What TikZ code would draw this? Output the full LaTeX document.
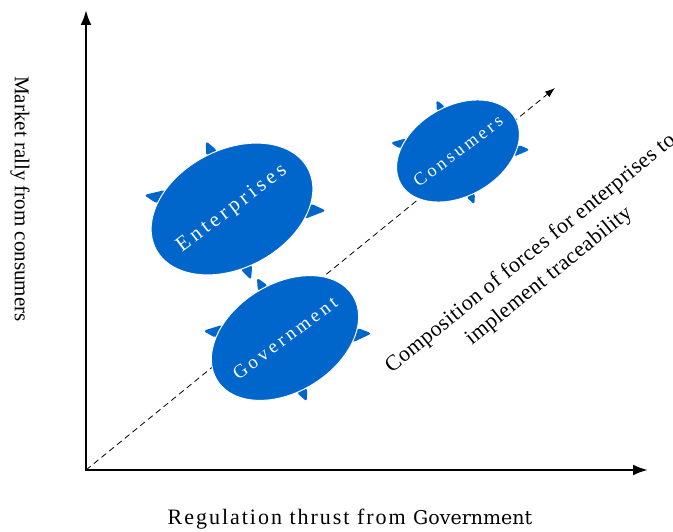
\documentclass[tikz,border=0pt]{standalone}
\usepackage{fontspec}
\setmainfont{Liberation Serif}
\newfontfamily\shellfont[LetterSpace=18]{Liberation Serif}
\newfontfamily\widefont[LetterSpace=9]{Liberation Serif}
\newfontfamily\diagfont[LetterSpace=2]{Liberation Serif}
\newfontfamily\govfont{DejaVu Serif}
\usetikzlibrary{shapes.geometric,calc,backgrounds,arrows.meta}
\definecolor{shellblue}{RGB}{0,102,204}

\begin{document}
\begin{tikzpicture}[x=1pt,y=1pt,
  shell/.style={ellipse,fill=shellblue,draw=white,line width=1pt,inner sep=0pt,outer sep=0pt},
  shelltext/.style={text=white,font=\shellfont\fontsize{#1}{#1}\selectfont,rotate=37},
  axis/.style={line width=2.5pt,{Latex[length=15pt,width=11pt]}-{Latex[length=15pt,width=11pt]}}]
\useasboundingbox (0,0) rectangle (673,531);
% axes
\coordinate (o) at (86,61);
\coordinate (ytop) at (86,521);
\coordinate (xend) at (648,61);
\coordinate (dend) at (555,443);
\draw[axis] (ytop) -- (o) -- (xend);
\draw[dash pattern=on 6pt off 4pt,line width=0.8pt,-{Latex[length=10pt,width=7pt]}] (o) -- (dend);
% the three shells
\node[shell,minimum width=172pt,minimum height=118pt,rotate=28] (ent) at (232,322) {};
\node[shell,minimum width=132pt,minimum height=90pt,rotate=30] (con) at (458,380) {};
\node[shell,minimum width=160pt,minimum height=108pt,rotate=32] (gov) at (285,193) {};
\begin{scope}[on background layer]
\foreach \n in {ent,con,gov}
  \foreach \a [evaluate=\a as \lo using int(\a-16), evaluate=\a as \hi using int(\a+12),
               evaluate=\a as \tp using int(\a+7)] in {76,136,250,324}
    \fill[shellblue,rounded corners=3pt] (\n.\lo) -- ($(\n.center)!1.23!(\n.\tp)$) -- (\n.\hi) -- cycle;
\end{scope}
\node[shelltext=21] (entlabel) at (ent.center) {Enterprises};
\node[shelltext=18] (conlabel) at (con.center) {Consumers};
\node[shelltext=19] (govlabel) at (gov.center) {Government};
% labels
\node[rotate=-90,font=\fontsize{21}{21}\selectfont] (ylab) at (20,332) {Market rally from consumers};
\node[font=\widefont\fontsize{22}{22}\selectfont] (xlab) at (350,12) {Regulation thrust from {\govfont\fontsize{19}{19}\selectfont Government}};
\node[rotate=39,align=center,font=\diagfont\fontsize{22}{29}\selectfont] (force) at (540,266) {Composition of forces for enterprises to\\implement traceability};
\end{tikzpicture}
\end{document}
